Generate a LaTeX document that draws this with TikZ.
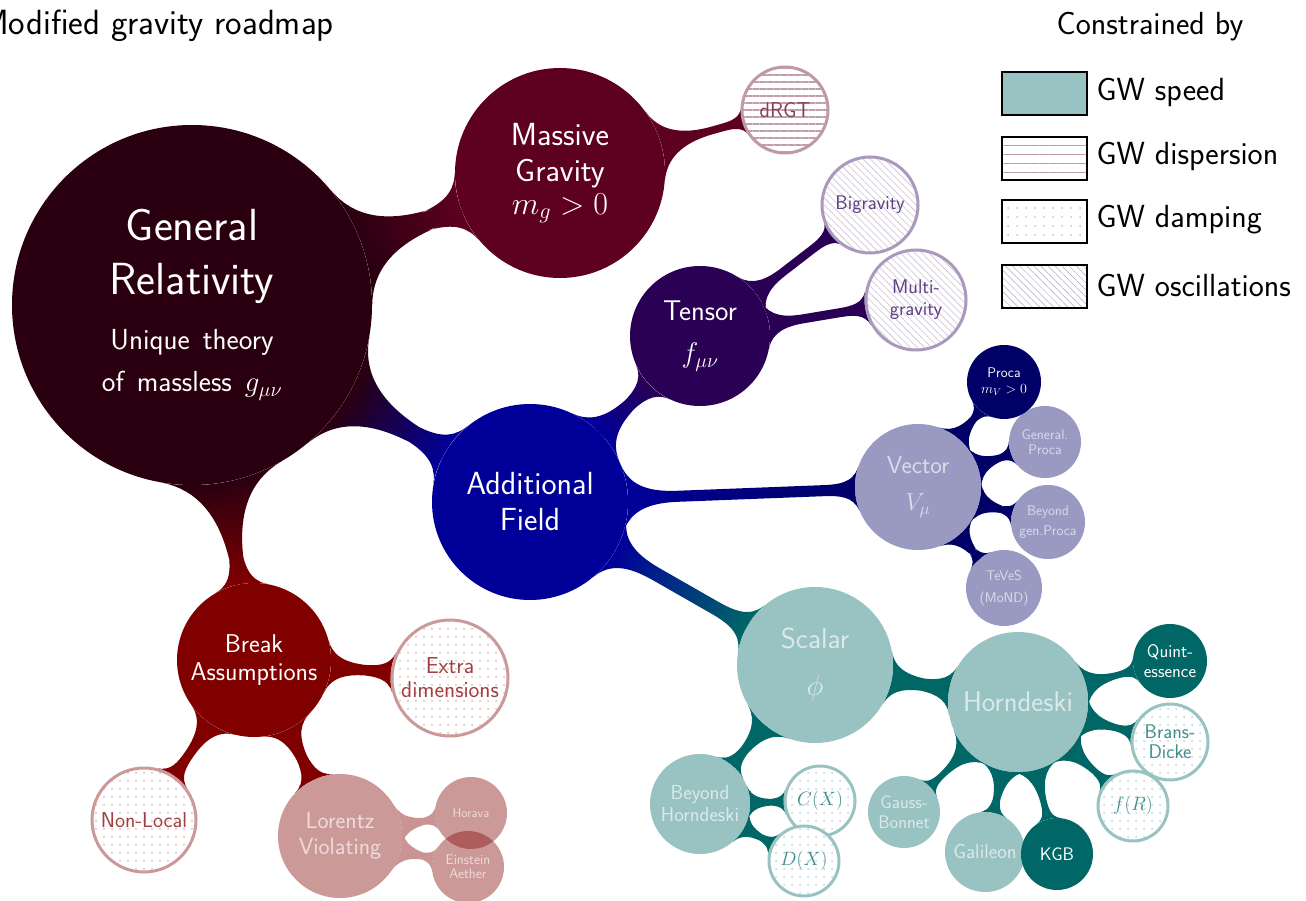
\RequirePackage{fix-cm}
\documentclass[tikz,border=0pt]{standalone}
\usetikzlibrary{mindmap,patterns.meta,backgrounds}
\renewcommand{\familydefault}{\sfdefault}
\definecolor{grc}{RGB}{42,0,16}
\definecolor{massc}{RGB}{94,0,32}
\definecolor{tensc}{RGB}{42,0,85}
\definecolor{addc}{RGB}{0,0,153}
\definecolor{vecc}{RGB}{0,0,102}
\definecolor{scalc}{RGB}{0,102,102}
\definecolor{brkc}{RGB}{128,0,0}
\colorlet{lorc}{brkc!42}
\newcommand{\fsz}[2]{\fontsize{#1}{#2}\selectfont}
\tikzset{
  cn/.style={circle, inner sep=0pt, align=center, minimum size=#1},
  fullc/.style={fill=#1, text=white},
  palec/.style={fill=#1, fill opacity=0.4, text=white, text opacity=0.65},
  patc/.style={draw=#1!40, line width=3pt, preaction={fill=white}, text=#1!75},
  hlines/.style={patc=#1, pattern={Lines[angle=0,distance=7pt,line width=1.6pt]}, pattern color=#1!38},
  dlines/.style={patc=#1, pattern={Lines[angle=-45,distance=5pt,line width=0.6pt]}, pattern color=#1!25},
  dotsp/.style={patc=#1, pattern={Dots[distance=8pt,radius=1pt]}, pattern color=#1!28},
  lgbox/.style={draw=black, line width=1.2pt, minimum width=85pt, minimum height=43pt, inner sep=0pt},
  lgtext/.style={anchor=west, font=\fsz{32}{38}},
}
\begin{document}
\begin{tikzpicture}[x=1pt,y=-1pt]
\useasboundingbox (0,0) rectangle (1306,901);
% title and legend
\node[anchor=base east, font=\fsz{35}{40}, inner sep=0pt] (title) at (334,35) {Modified gravity roadmap};
\node[anchor=base, font=\fsz{32}{38}, inner sep=0pt] (legtitle) at (1150,35) {Constrained by};
\node[lgbox, fill=scalc!40] (lb1) at (1044.5,93.5) {};
\node[lgbox, pattern={Lines[angle=0,distance=9pt,line width=0.8pt]}, pattern color=massc!40] (lb2) at (1044.5,158.5) {};
\node[lgbox, pattern={Dots[distance=9pt,radius=1pt]}, pattern color=brkc!28] (lb3) at (1044.5,221.5) {};
\node[lgbox, pattern={Lines[angle=-45,distance=5pt,line width=0.5pt]}, pattern color=tensc!35] (lb4) at (1044.5,286.5) {};
\node[lgtext] (lt1) at (1093,93) {GW speed};
\node[lgtext] (lt2) at (1093,157) {GW dispersion};
\node[lgtext] (lt3) at (1093,220) {GW damping};
\node[lgtext] (lt4) at (1093,286) {GW oscillations};

% concepts
\node[cn=360pt, fullc=grc, text width=240pt] (gr) at (192,305)
  {{\fsz{45}{54}General\\Relativity\par}\vspace{13pt}{\fsz{29}{42}Unique\hspace{0.45em}theory\\of\hspace{0.45em}massless\hspace{0.45em}$g_{\mu\nu}$\par}};
\node[cn=210pt, fullc=massc, font=\fsz{32}{36}] (mass) at (560,173) {Massive\\Gravity\\[-3pt]$m_g > 0$};
\node[cn=86pt, hlines=massc, font=\fsz{21.5}{24}] (drgt) at (785,110) {dRGT};
\node[cn=196pt, fullc=addc, font=\fsz{32}{36}] (addf) at (530,502) {Additional\\Field};
\node[cn=140pt, fullc=tensc, font=\fsz{28.5}{42}] (tens) at (700,336) {Tensor\\$f_{\mu\nu}$};
\node[cn=96pt, dlines=tensc, font=\fsz{19.8}{22}] (bigr) at (870,205) {Bigravity};
\node[cn=100pt, dlines=tensc, font=\fsz{19.8}{22}] (multi) at (916,300) {Multi-\\gravity};
\node[cn=126pt, palec=vecc, font=\fsz{24.6}{37}] (vec) at (918,487) {Vector\\$V_\mu$};
\node[cn=74pt, fullc=vecc, font=\fsz{14}{16}] (proca) at (1004,382) {Proca\\$m_V > 0$};
\node[cn=72pt, palec=vecc, font=\fsz{14}{14.5}] (gproca) at (1045,442) {General.\\Proca};
\node[cn=74pt, palec=vecc, font=\fsz{14}{20}] (bproca) at (1048,522) {Beyond\\gen.Proca};
\node[cn=76pt, palec=vecc, font=\fsz{14}{22}] (teves) at (1004,588) {TeVeS\\(MoND)};
\node[cn=156pt, palec=scalc, font=\fsz{29}{47}] (scal) at (815,665) {Scalar\\$\phi$};
\node[cn=140pt, palec=scalc, font=\fsz{28.5}{32}] (horn) at (1018,702) {Horndeski};
\node[cn=74pt, fullc=scalc, font=\fsz{18.2}{20}] (quint) at (1170,661) {Quint-\\essence};
\node[cn=76pt, dotsp=scalc, font=\fsz{19.8}{20}] (brans) at (1170,742) {Brans-\\Dicke};
\node[cn=70pt, dotsp=scalc, font=\fsz{19.3}{22}] (fr) at (1133,806) {$f(R)$};
\node[cn=72pt, fullc=scalc, font=\fsz{18.2}{20}] (kgb) at (1057,854) {KGB};
\node[cn=80pt, palec=scalc, font=\fsz{20.3}{22}] (gal) at (985,852) {Galileon};
\node[cn=72pt, palec=scalc, font=\fsz{18.2}{20}] (gauss) at (904,812) {Gauss-\\Bonnet};
\node[cn=100pt, palec=scalc, font=\fsz{20.3}{22}] (bhorn) at (700,804) {Beyond\\Horndeski};
\node[cn=70pt, dotsp=scalc, font=\fsz{19.3}{22}] (cx) at (820,801) {$C(X)$};
\node[cn=70pt, dotsp=scalc, font=\fsz{19.3}{22}] (dx) at (804,861) {$D(X)$};
\node[cn=154pt, fullc=brkc, font=\fsz{25.7}{28}] (brk) at (254,660) {Break\\Assumptions};
\node[cn=116pt, dotsp=brkc, font=\fsz{23}{24}] (extra) at (450,678) {Extra\\dimensions};
\node[cn=104pt, dotsp=brkc, font=\fsz{21.4}{24}] (nonloc) at (144,820) {Non-Local};
\node[cn=124pt, palec=brkc, font=\fsz{23.5}{26}] (lor) at (340,836) {Lorentz\\Violating};
\node[cn=72pt, palec=brkc, font=\fsz{12.8}{14}] (horava) at (471,813) {Horava};
\node[cn=72pt, palec=brkc, font=\fsz{13.9}{14}] (einst) at (468,867) {Einstein\\Aether};

% connection bars
\begin{scope}[on background layer]
\path (gr) to[circle connection bar switch color=from (grc) to (massc)] (mass);
\path (gr) to[circle connection bar switch color=from (grc) to (addc)] (addf);
\path (gr) to[circle connection bar switch color=from (grc) to (brkc)] (brk);
\path (mass) to[circle connection bar switch color=from (massc) to (massc)] (drgt);
\path (addf) to[circle connection bar switch color=from (addc) to (tensc)] (tens);
\path (addf) to[circle connection bar switch color=from (addc) to (vecc)] (vec);
\path (addf) to[circle connection bar switch color=from (addc) to (scalc)] (scal);
\path (tens) to[circle connection bar switch color=from (tensc) to (tensc)] (bigr);
\path (tens) to[circle connection bar switch color=from (tensc) to (tensc)] (multi);
\path (vec) to[circle connection bar switch color=from (vecc) to (vecc)] (proca);
\path (vec) to[circle connection bar switch color=from (vecc) to (vecc)] (gproca);
\path (vec) to[circle connection bar switch color=from (vecc) to (vecc)] (bproca);
\path (vec) to[circle connection bar switch color=from (vecc) to (vecc)] (teves);
\path (scal) to[circle connection bar switch color=from (scalc) to (scalc)] (horn);
\path (scal) to[circle connection bar switch color=from (scalc) to (scalc)] (bhorn);
\path (horn) to[circle connection bar switch color=from (scalc) to (scalc)] (quint);
\path (horn) to[circle connection bar switch color=from (scalc) to (scalc)] (brans);
\path (horn) to[circle connection bar switch color=from (scalc) to (scalc)] (fr);
\path (horn) to[circle connection bar switch color=from (scalc) to (scalc)] (kgb);
\path (horn) to[circle connection bar switch color=from (scalc) to (scalc)] (gal);
\path (horn) to[circle connection bar switch color=from (scalc) to (scalc)] (gauss);
\path (bhorn) to[circle connection bar switch color=from (scalc) to (scalc)] (cx);
\path (bhorn) to[circle connection bar switch color=from (scalc) to (scalc)] (dx);
\path (brk) to[circle connection bar switch color=from (brkc) to (brkc)] (extra);
\path (brk) to[circle connection bar switch color=from (brkc) to (brkc)] (nonloc);
\path (brk) to[circle connection bar switch color=from (brkc) to (brkc)] (lor);
\path (lor) to[circle connection bar switch color=from (lorc) to (lorc)] (horava);
\path (lor) to[circle connection bar switch color=from (lorc) to (lorc)] (einst);
\end{scope}
\end{tikzpicture}
\end{document}
